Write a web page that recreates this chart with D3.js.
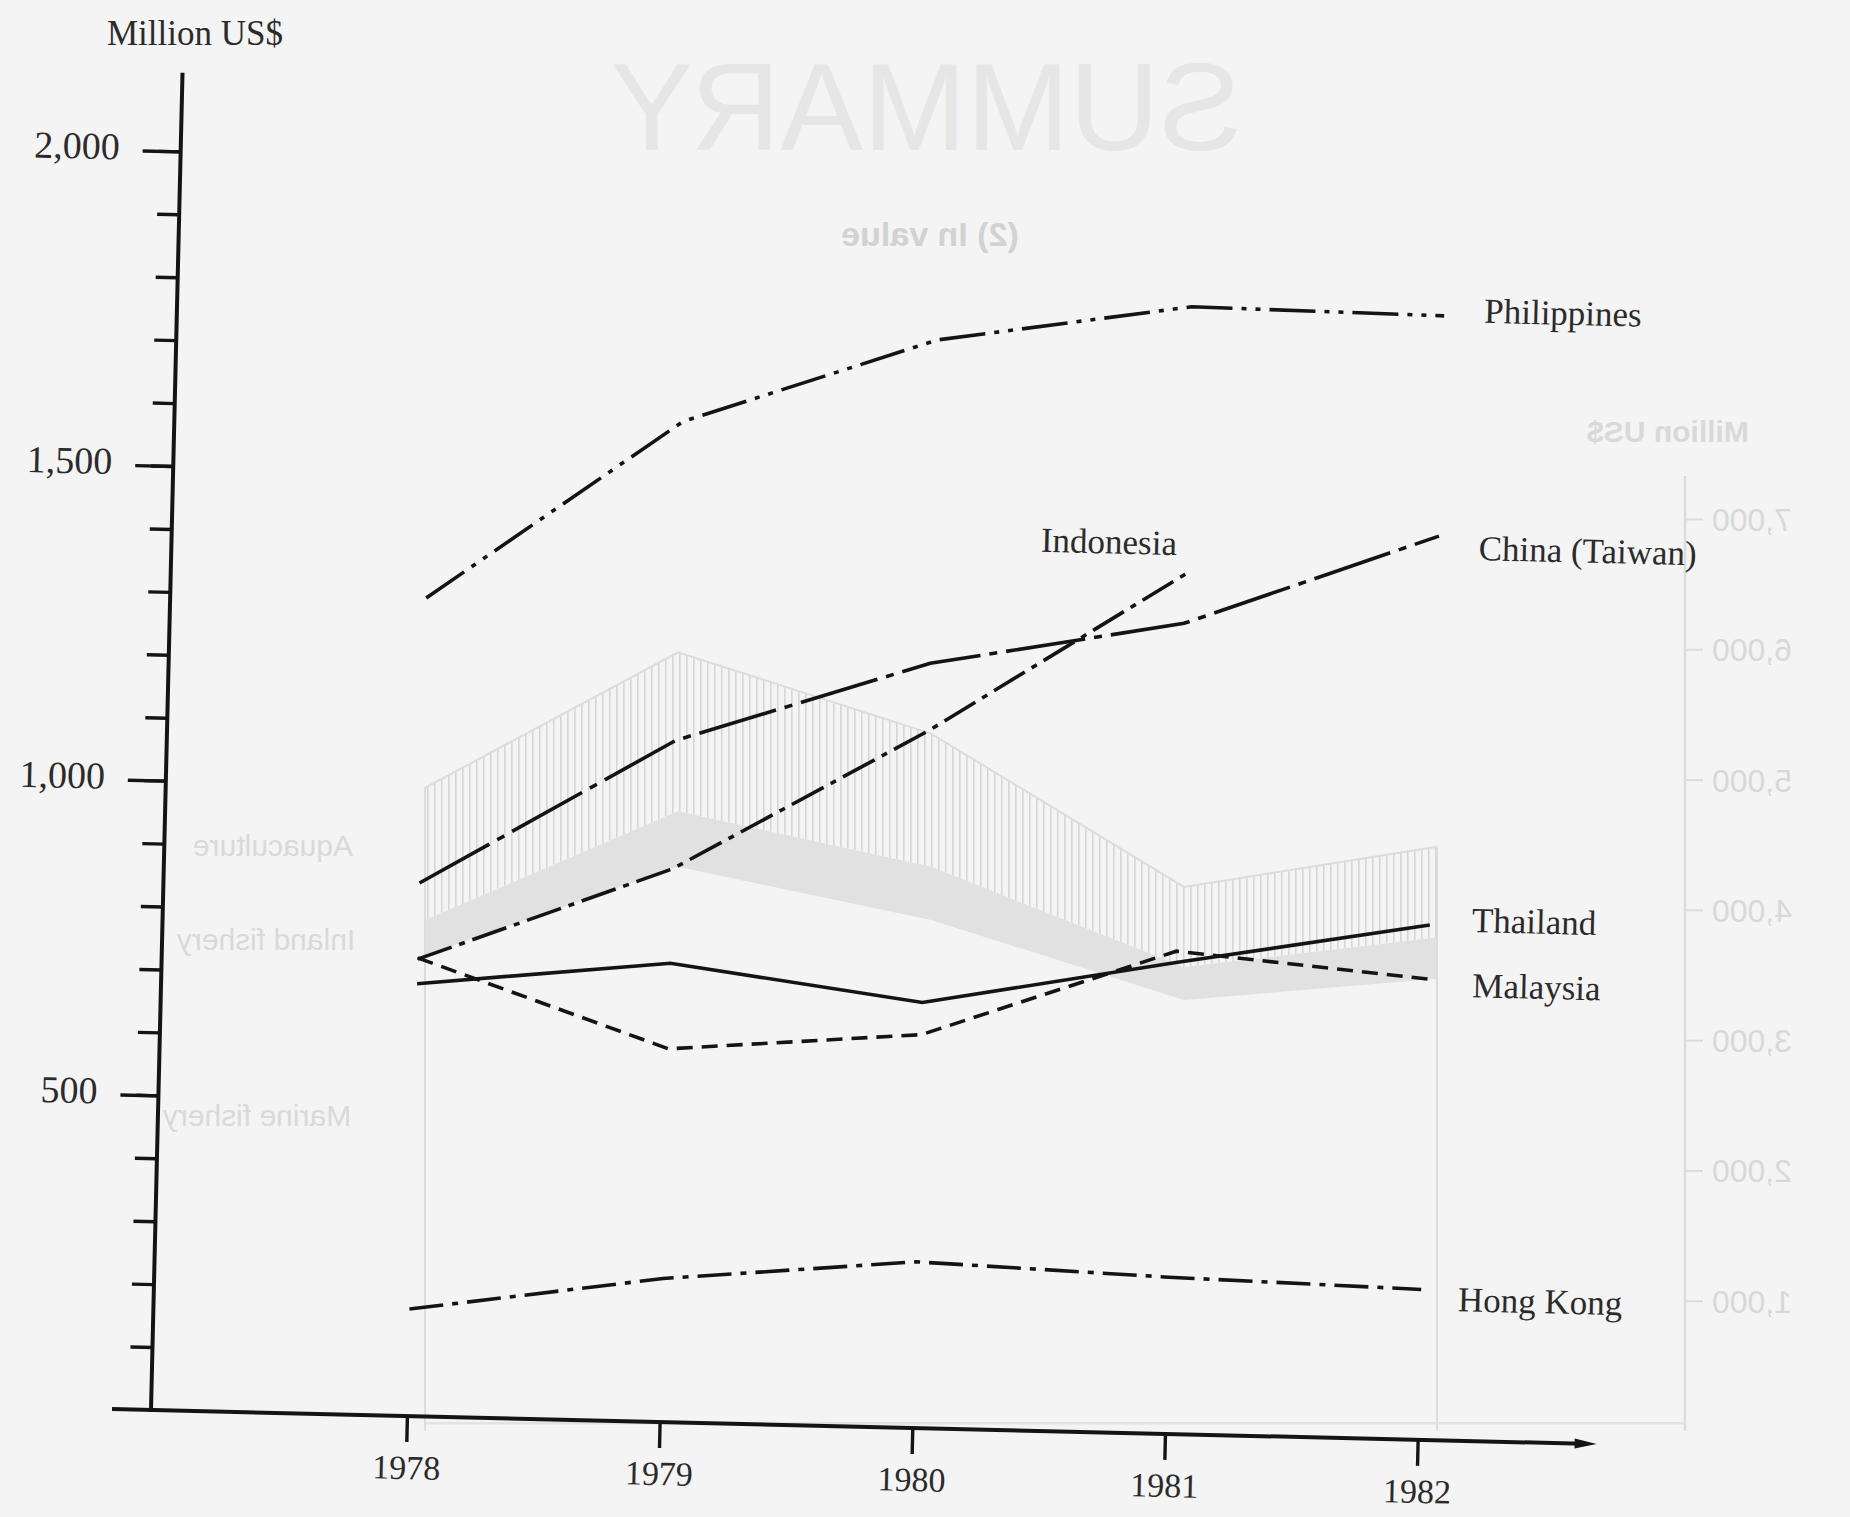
<!DOCTYPE html>
<html>
<head>
<meta charset="utf-8">
<script src="https://cdn.jsdelivr.net/npm/d3@7"></script>
<style>
  body { margin: 0; background: #f4f4f4; }
  svg { display: block; }
</style>
</head>
<body>
<svg id="chart" width="1850" height="1517"></svg>
<script>
// values in million US$
const years = [1978, 1979, 1980, 1981, 1982];
const philippines = [1300, 1590, 1729, 1791, 1786];
const indonesia = [726, 879, 1108, 1366];          // 1978-1981
const china = [847, 1083, 1215, 1288, 1436];
const thailand = [687, 729, 676, 749, 818];
const malaysia = [728, 593, 625, 767, 732];
const hongKong = [170, 228, 264, 249, 239];

const yMajorTicks = [500, 1000, 1500, 2000];
const yMinorTicks = d3.range(100, 2001, 100);

// the page behind shows through the paper (mirrored)
const ghostAquaTop = [4937, 5977, 5353, 4176, 4484];
const ghostInlandTop = [3923, 4756, 4330, 3561, 3787];
const ghostInlandBottom = [3652, 4330, 3923, 3308, 3471];
const ghostTicks = [1000, 2000, 3000, 4000, 5000, 6000, 7000];

const series = [
  {name: "Philippines", values: philippines, dash: "46,9,5,9,5,9", label: [40, 6, "start"]},
  {name: "Indonesia", values: indonesia, dash: "36,8,6,8", label: [-9, -19, "end"]},
  {name: "China (Taiwan)", values: china, dash: "80,9,8,9", label: [40, 23, "start"]},
  {name: "Thailand", values: thailand, dash: null, label: [42, 6, "start"]},
  {name: "Malaysia", values: malaysia, dash: "16,9", label: [44, 17, "start"]},
  {name: "Hong Kong", values: hongKong, dash: "34,9,6,9", label: [37, 21, "start"]}
];

const svg = d3.select("#chart");
const ink = "#141414", textInk = "#2b2b2b", ghost = "#dcdcdc";
const serif = "'Liberation Serif', 'Times New Roman', serif";

svg.append("rect").attr("width", 1850).attr("height", 1517).attr("fill", "#f4f4f4");

// ---- ghost layer ----
const gx = d3.scaleLinear().domain([1978, 1982]).range([425, 1437]);
const gy = d3.scaleLinear().domain([0, 7000]).range([1431, 519]);
const ghostG = svg.append("g");

const defs = svg.append("defs");
defs.append("pattern").attr("id", "hatch").attr("patternUnits", "userSpaceOnUse")
  .attr("width", 7).attr("height", 10)
  .append("rect").attr("width", 1.6).attr("height", 10).attr("fill", "#d6d6d6");

ghostG.append("path")
  .datum(years.map((yr, i) => ({yr, top: ghostAquaTop[i], bot: ghostInlandTop[i]})))
  .attr("fill", "url(#hatch)")
  .attr("d", d3.area().x(d => gx(d.yr)).y0(d => gy(d.bot)).y1(d => gy(d.top)));
ghostG.append("path")
  .datum(years.map((yr, i) => ({yr, top: ghostInlandTop[i], bot: ghostInlandBottom[i]})))
  .attr("fill", "#e1e1e1")
  .attr("d", d3.area().x(d => gx(d.yr)).y0(d => gy(d.bot)).y1(d => gy(d.top)));
ghostG.append("path")
  .datum(ghostAquaTop)
  .attr("fill", "none").attr("stroke", ghost).attr("stroke-width", 2)
  .attr("d", d3.line().x((d, i) => gx(years[i])).y(d => gy(d)));
// frame
ghostG.append("line").attr("x1", gx(1978)).attr("x2", gx(1978))
  .attr("y1", gy(ghostAquaTop[0])).attr("y2", gy(0)).attr("stroke", ghost).attr("stroke-width", 2);
ghostG.append("line").attr("x1", gx(1982)).attr("x2", gx(1982))
  .attr("y1", gy(ghostAquaTop[4])).attr("y2", gy(0)).attr("stroke", ghost).attr("stroke-width", 2);
ghostG.append("line").attr("x1", 1685).attr("x2", 1685)
  .attr("y1", gy(7330)).attr("y2", gy(0)).attr("stroke", ghost).attr("stroke-width", 2.5);
ghostG.append("line").attr("x1", gx(1978)).attr("x2", 1685)
  .attr("y1", gy(60)).attr("y2", gy(60)).attr("stroke", "#e2e2e2").attr("stroke-width", 2.5);

const ghostAxis = ghostG.append("g").attr("transform", "translate(1685,0)")
  .call(d3.axisRight(gy).tickValues(ghostTicks).tickSize(18).tickFormat(() => ""));
ghostAxis.select(".domain").remove();
ghostAxis.selectAll("line").attr("stroke", ghost).attr("stroke-width", 2);

function mirrored(txt, cx, cy, size, weight, fill) {
  ghostG.append("text")
    .attr("transform", `translate(${cx},${cy}) scale(-1,1)`)
    .attr("text-anchor", "middle")
    .attr("font-family", "'Liberation Sans', Arial, sans-serif")
    .attr("font-size", size).attr("font-weight", weight)
    .attr("fill", fill).text(txt);
}
ghostTicks.forEach(t => mirrored(d3.format(",")(t), 1752, gy(t) + 12, 32, "normal", "#d8d8d8"));
mirrored("SUMMARY", 926, 150, 124, "normal", "#e6e6e6");
mirrored("(2) In value", 930, 246, 34, "bold", "#d2d2d2");
mirrored("Million US$", 1668, 442, 30, "bold", "#d9d9d9");
mirrored("Aquaculture", 273, 856, 30, "normal", "#d9d9d9");
mirrored("Inland fishery", 266, 950, 30, "normal", "#d9d9d9");
mirrored("Marine fishery", 257, 1126, 30, "normal", "#d9d9d9");

// ---- main chart (the scan is slightly rotated) ----
const origin = [151, 1410], tilt = 1.35;
const g = svg.append("g").attr("transform", `translate(${origin}) rotate(${tilt})`);

const x = d3.scaleLinear().domain([1978, 1982]).range([256, 1267]);
const y = d3.scaleLinear().domain([0, 2000]).range([0, -1259]);

// y axis
const yMinor = g.append("g")
  .call(d3.axisLeft(y).tickValues(yMinorTicks).tickSize(22).tickFormat(""));
const yMajor = g.append("g")
  .call(d3.axisLeft(y).tickValues(yMajorTicks).tickSize(38).tickPadding(23).tickFormat(d3.format(",")));
[yMinor, yMajor].forEach(a => {
  a.select(".domain").remove();
  a.selectAll("line").attr("stroke", ink).attr("stroke-width", 3.4);
});
yMajor.selectAll("text").attr("dy", 9).attr("fill", textInk)
  .attr("font-family", serif).attr("font-size", 38);

g.append("line").attr("x1", 0).attr("x2", 0).attr("y1", 2).attr("y2", y(2125))
  .attr("stroke", ink).attr("stroke-width", 4);

// x axis
const xAxis = g.append("g")
  .call(d3.axisBottom(x).tickValues(years).tickSize(26).tickPadding(13).tickFormat(d3.format("d")));
xAxis.select(".domain").remove();
xAxis.selectAll("line").attr("stroke", ink).attr("stroke-width", 3.4);
xAxis.selectAll("text").attr("fill", textInk)
  .attr("font-family", serif).attr("font-size", 34);

g.append("line").attr("x1", -39).attr("x2", 1432).attr("y1", 0).attr("y2", 0)
  .attr("stroke", ink).attr("stroke-width", 4);
g.append("path").attr("d", "M1424,-5 L1446,0 L1424,5 Z").attr("fill", ink);

// lines
const line = d3.line().x((d, i) => x(years[i])).y(d => y(d));
series.forEach(s => {
  g.append("path")
    .datum(s.values)
    .attr("fill", "none")
    .attr("stroke", ink)
    .attr("stroke-width", 3.6)
    .attr("stroke-dasharray", s.dash)
    .attr("d", line);
  const last = s.values.length - 1;
  g.append("text")
    .attr("x", x(years[last]) + s.label[0])
    .attr("y", y(s.values[last]) + s.label[1])
    .attr("text-anchor", s.label[2])
    .attr("font-family", serif)
    .attr("font-size", 35)
    .attr("fill", textInk)
    .text(s.name);
});

svg.append("text").attr("x", 107).attr("y", 45)
  .attr("font-family", serif).attr("font-size", 35).attr("fill", textInk)
  .text("Million US$");
</script>
</body>
</html>
